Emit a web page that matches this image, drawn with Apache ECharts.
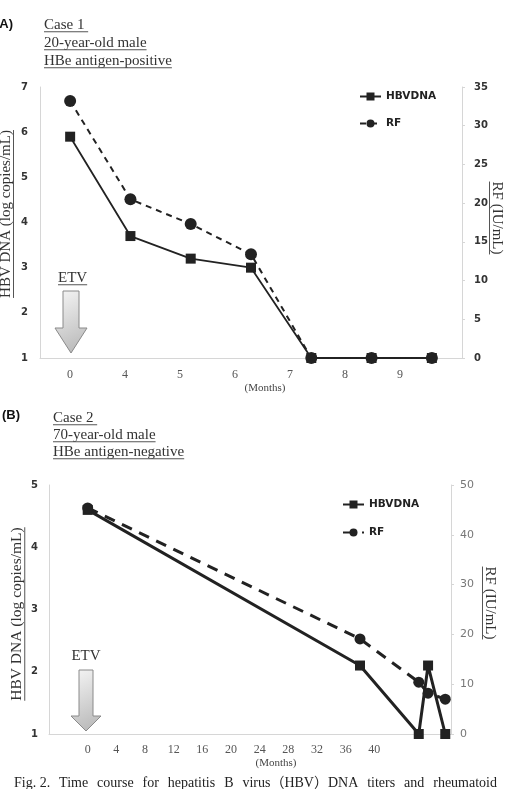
<!DOCTYPE html>
<html>
<head>
<meta charset="utf-8">
<script src="https://cdn.jsdelivr.net/npm/echarts@6/dist/echarts.min.js"></script>
<style>
html, body { margin: 0; padding: 0; background: #fff; }
#chart { width: 507px; height: 789px; }
</style>
</head>
<body>
<div id="chart"></div>
<script>
// Case 1 (A): seven visits, category axis
let caseA_labels = ['0', '4', '5', '6', '7', '8', '9'];
let caseA_hbv    = [5.9, 3.7, 3.2, 3.0, 1, 1, 1];
let caseA_rf     = [33.2, 20.5, 17.3, 13.4, 0, 0, 0];

// Case 2 (B): months since ETV start
let caseB_months = [0, 38, 46.2, 47.5, 49.9];
let caseB_hbv    = [4.6, 2.1, 1, 2.1, 1];
let caseB_rf     = [45.4, 19.1, 10.4, 8.2, 7.0];
let caseB_ticks  = [0, 4, 8, 12, 16, 20, 24, 28, 32, 36, 40];

let SERIF = '"Liberation Serif", "Times New Roman", serif';
let SANS  = '"DejaVu Sans", Verdana, sans-serif';
let INK   = '#222';

function textW(str, font){
    let c = textW.ctx || (textW.ctx = document.createElement('canvas').getContext('2d'));
    c.font = font;
    return c.measureText(str).width;
}

// horizontal serif text, optionally underlined
function hText(str, x, y, size, under){
    let w = textW(str, size + 'px ' + SERIF);
    let els = [{
        type: 'text', x: x, y: y,
        style: { text: str, fontSize: size, fontFamily: SERIF, fill: '#333', verticalAlign: 'middle' }
    }];
    if(under){
        els.push({
            type: 'line',
            shape: { x1: x, y1: y + size * 0.45, x2: x + w, y2: y + size * 0.45 },
            style: { stroke: '#555', lineWidth: 1 }
        });
    }
    return els;
}

// rotated axis name with underline
function vText(str, cx, cy, size, rot){
    let w = textW(str, size + 'px ' + SERIF);
    return {
        type: 'group', x: cx, y: cy, rotation: rot,
        children: [
            { type: 'text', style: { text: str, fontSize: size, fontFamily: SERIF, fill: '#333', align: 'center', verticalAlign: 'middle' } },
            { type: 'line', shape: { x1: -w / 2, y1: size * 0.5, x2: w / 2, y2: size * 0.5 }, style: { stroke: '#555', lineWidth: 1 } }
        ]
    };
}

function arrow(cx, top, headTop, tip, shaftW, headW){
    let s = shaftW / 2, h = headW / 2;
    return {
        type: 'polygon',
        shape: { points: [[cx - s, top], [cx + s, top], [cx + s, headTop], [cx + h, headTop], [cx, tip], [cx - h, headTop], [cx - s, headTop]] },
        style: {
            fill: new echarts.graphic.LinearGradient(0, 0, 1, 1, [
                { offset: 0, color: '#f6f6f6' },
                { offset: 1, color: '#b4b4b4' }
            ]),
            stroke: '#8a8a8a', lineWidth: 1
        }
    };
}

// justified caption line
function caption(words, x1, x2, y, size){
    let font = size + 'px ' + SERIF;
    let widths = words.map(w => textW(w, font));
    let total = widths.reduce((a, b) => a + b, 0);
    let gap = (x2 - x1 - total) / (words.length - 1);
    let els = [];
    let x = x1;
    for(let i = 0; i < words.length; i++){
        els.push({ type: 'text', x: x, y: y, style: { text: words[i], fontSize: size, fontFamily: SERIF + ', "Noto Sans CJK JP"', fill: '#222', verticalAlign: 'middle' } });
        x += widths[i] + gap;
    }
    return els;
}

let graphics = [].concat(
    [{ type: 'text', x: -5, y: 24, style: { text: '(A)', fontSize: 13, fontWeight: 'bold', fontFamily: '"Liberation Sans", Arial, sans-serif', fill: '#111', verticalAlign: 'middle' } }],
    hText('Case 1 ', 44, 25, 15, true),
    hText('20-year-old male', 44, 43, 15, true),
    hText('HBe antigen-positive', 44, 61, 15, true),
    [{ type: 'text', x: 2, y: 415, style: { text: '(B)', fontSize: 13, fontWeight: 'bold', fontFamily: '"Liberation Sans", Arial, sans-serif', fill: '#111', verticalAlign: 'middle' } }],
    hText('Case 2 ', 53, 418, 15, true),
    hText('70-year-old male', 53, 435, 15, true),
    hText('HBe antigen-negative', 53, 452, 15, true),
    [
        vText('HBV DNA (log copies/mL)', 6, 214, 15, Math.PI / 2),
        vText('RF (IU/mL)', 497, 218, 15, -Math.PI / 2),
        vText('HBV DNA (log copies/mL)', 17, 614, 15.5, Math.PI / 2),
        vText('RF (IU/mL)', 490, 603, 15, -Math.PI / 2),
        { type: 'text', x: 265, y: 388, style: { text: '(Months)', fontSize: 11, fontFamily: SERIF, fill: '#444', align: 'center', verticalAlign: 'middle' } },
        { type: 'text', x: 276, y: 763, style: { text: '(Months)', fontSize: 11, fontFamily: SERIF, fill: '#444', align: 'center', verticalAlign: 'middle' } },
        arrow(71, 291, 328, 353, 16, 32),
        arrow(86, 670, 716, 731, 14, 30),
        { type: 'text', x: 86, y: 656, style: { text: 'ETV', fontSize: 15, fontFamily: SERIF, fill: '#333', align: 'center', verticalAlign: 'middle' } }
    ],
    hText('ETV', 58, 278, 15, true),
    caption(['Fig. 2.', 'Time', 'course', 'for', 'hepatitis', 'B', 'virus（HBV）DNA', 'titers', 'and', 'rheumatoid'], 14, 497, 783, 14)
);

let tickLabel = { color: '#333', fontSize: 10, fontWeight: 'bold', fontFamily: SANS };
let axisLine  = { show: true, onZero: false, lineStyle: { color: '#d6d6d6', width: 1 } };

let option = {
    animation: false,
    backgroundColor: '#fff',
    grid: [
        { left: 40, right: 45, top: 87, height: 271 },
        { left: 49, right: 56, top: 485, height: 249 }
    ],
    legend: [
        {
            orient: 'vertical', left: 359, top: 91, padding: 0, itemGap: 16, itemWidth: 21, itemHeight: 10,
            data: ['HBVDNA', 'RF'],
            textStyle: { fontSize: 10.5, fontWeight: 'bold', fontFamily: SANS, color: '#222' }
        },
        {
            orient: 'vertical', left: 342, top: 499, padding: 0, itemGap: 17, itemWidth: 21, itemHeight: 10,
            data: ['HBVDNA (B)', 'RF (B)'],
            formatter: name => name.replace(' (B)', ''),
            textStyle: { fontSize: 10.5, fontWeight: 'bold', fontFamily: SANS, color: '#222' }
        }
    ],
    xAxis: [
        {
            gridIndex: 0, type: 'category', data: caseA_labels,
            axisLine: axisLine, axisTick: { show: false }, axisLabel: { show: false }
        },
        {
            // label row of case 1 is spaced independently of the points
            gridIndex: 0, type: 'value', position: 'bottom', min: -0.5455, max: 7.127,
            axisLine: { show: false, onZero: false }, axisTick: { show: false }, splitLine: { show: false },
            axisLabel: {
                customValues: [0, 1, 2, 3, 4, 5, 6], margin: 11,
                formatter: v => caseA_labels[v],
                fontSize: 12, fontFamily: SERIF, color: '#555'
            }
        },
        {
            gridIndex: 1, type: 'value', min: -5.4, max: 50.7,
            axisLine: axisLine, axisTick: { show: false }, splitLine: { show: false },
            axisLabel: { customValues: caseB_ticks, margin: 10, fontSize: 12, fontFamily: SERIF, color: '#555' }
        }
    ],
    yAxis: [
        {
            gridIndex: 0, type: 'value', position: 'left', min: 1, max: 7, interval: 1,
            axisLine: axisLine, axisTick: { show: false }, splitLine: { show: false },
            axisLabel: Object.assign({ margin: 12 }, tickLabel)
        },
        {
            gridIndex: 0, type: 'value', position: 'right', min: 0, max: 35, interval: 5,
            axisLine: axisLine, axisTick: { show: true, length: 3, lineStyle: { color: '#d6d6d6' } }, splitLine: { show: false },
            axisLabel: Object.assign({ margin: 12 }, tickLabel)
        },
        {
            gridIndex: 1, type: 'value', position: 'left', min: 1, max: 5, interval: 1,
            axisLine: axisLine, axisTick: { show: false }, splitLine: { show: false },
            axisLabel: Object.assign({ margin: 11 }, tickLabel)
        },
        {
            gridIndex: 1, type: 'value', position: 'right', min: 0, max: 50, interval: 10,
            axisLine: axisLine, axisTick: { show: true, length: 3, lineStyle: { color: '#d6d6d6' } }, splitLine: { show: false },
            axisLabel: { margin: 9, fontSize: 11, fontFamily: SANS, color: '#777' }
        }
    ],
    series: [
        {
            name: 'HBVDNA', type: 'line', xAxisIndex: 0, yAxisIndex: 0,
            data: caseA_hbv, symbol: 'rect', symbolSize: 10,
            lineStyle: { color: INK, width: 1.8 }, itemStyle: { color: INK }
        },
        {
            name: 'RF', type: 'line', xAxisIndex: 0, yAxisIndex: 1,
            data: caseA_rf, symbol: 'circle', symbolSize: 12,
            lineStyle: { color: INK, width: 2, type: [6, 5] }, itemStyle: { color: INK }
        },
        {
            name: 'HBVDNA (B)', type: 'line', xAxisIndex: 2, yAxisIndex: 2,
            data: caseB_months.map((m, i) => [m, caseB_hbv[i]]), symbol: 'rect', symbolSize: 10,
            lineStyle: { color: INK, width: 3 }, itemStyle: { color: INK }
        },
        {
            name: 'RF (B)', type: 'line', xAxisIndex: 2, yAxisIndex: 3,
            data: caseB_months.map((m, i) => [m, caseB_rf[i]]), symbol: 'circle', symbolSize: 11,
            lineStyle: { color: INK, width: 3, type: [11, 8] }, itemStyle: { color: INK }
        }
    ],
    graphic: graphics
};

let chart = echarts.init(document.getElementById('chart'));
chart.setOption(option);
</script>
</body>
</html>
